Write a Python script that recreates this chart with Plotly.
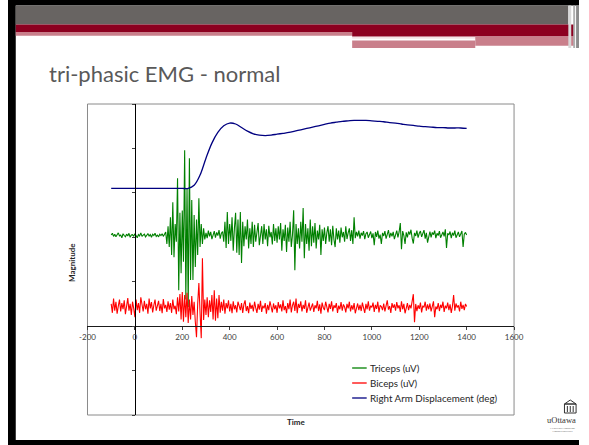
import numpy as np
import plotly.graph_objects as go

# ---------------- data ----------------
# EMG traces sampled every 5 ms from -100 ms to 1400 ms
time_ms = np.arange(-100, 1401, 5)

triceps_uv = [
    2.05, 2.09, 2.02, 2.07, 2.01, 2.06, 2.10, 2.03, 2.05, 1.99,
    2.08, 2.04, 2.01, 2.07, 2.03, 2.09, 2.00, 2.05, 2.06, 2.02,
    2.08, 2.04, 1.99, 2.06, 2.03, 2.10, 2.02, 2.05, 2.07, 2.01,
    2.04, 2.08, 2.03, 2.06, 2.00, 2.07, 2.04, 2.09, 2.02, 2.05,
    2.01, 2.07, 2.04, 2.08, 2.02, 2.06, 2.12, 1.85, 2.25, 1.78,
    2.45, 1.60, 2.79, 1.55, 2.30, 1.90, 3.33, 0.81, 2.55, 1.19,
    2.60, 1.45, 3.96, 0.60, 3.10, 0.43, 3.78, 1.04, 2.84, 1.04,
    2.50, 1.33, 2.40, 1.60, 2.88, 1.78, 2.30, 1.85, 2.20, 1.95,
    2.10, 1.98, 2.15, 2.02, 2.12, 1.96, 2.08, 2.14, 1.99, 2.11,
    2.04, 2.16, 1.97, 2.09, 2.13, 1.90, 2.35, 1.76, 2.57, 1.85,
    2.30, 1.92, 2.45, 1.70, 2.20, 2.55, 1.65, 2.40, 1.60, 2.57,
    1.42, 2.35, 1.80, 2.25, 1.95, 2.40, 1.75, 2.20, 1.85, 2.35,
    1.78, 2.28, 1.90, 2.15, 2.32, 1.82, 2.10, 2.25, 1.85, 2.30,
    1.95, 2.18, 1.80, 2.26, 2.00, 2.12, 1.84, 2.30, 1.92, 2.20,
    1.88, 2.25, 1.95, 2.32, 1.70, 2.18, 1.92, 2.28, 1.67, 2.22,
    1.90, 2.35, 1.78, 2.05, 2.61, 1.26, 2.30, 1.85, 2.20, 1.75,
    2.35, 1.90, 2.66, 1.53, 2.30, 1.85, 2.20, 1.70, 2.40, 1.80,
    2.25, 1.88, 2.32, 1.75, 2.15, 1.95, 2.28, 1.60, 2.18, 1.92,
    2.22, 1.85, 2.10, 2.25, 1.90, 2.18, 1.82, 2.26, 1.95, 1.78,
    2.20, 1.95, 2.15, 1.88, 2.22, 2.00, 2.12, 1.90, 2.25, 1.96,
    2.10, 2.20, 1.92, 2.16, 1.85, 2.45, 1.98, 2.12, 2.02, 2.15,
    1.97, 2.10, 2.04, 2.14, 1.96, 2.08, 2.12, 1.99, 2.06, 2.13,
    1.98, 2.09, 1.82, 2.12, 2.01, 2.15, 1.97, 2.06, 1.85, 2.10,
    2.03, 2.14, 1.97, 2.08, 2.16, 1.99, 2.10, 2.02, 2.12, 1.96,
    2.08, 2.15, 2.00, 2.12, 2.32, 1.73, 2.14, 2.04, 1.85, 2.11,
    2.00, 2.13, 2.06, 2.17, 1.98, 1.86, 2.10, 2.03, 2.15, 1.99,
    2.09, 2.14, 2.01, 2.07, 2.16, 1.97, 2.10, 1.88, 2.05, 2.13,
    2.00, 2.11, 2.06, 2.15, 1.98, 2.09, 2.04, 2.14, 1.99, 2.08,
    2.12, 2.02, 2.18, 1.76, 2.09, 2.05, 2.13, 1.98, 2.10, 2.04,
    2.15, 1.99, 2.08, 2.12, 2.01, 2.06, 2.14, 1.78, 2.07, 2.11,
    2.05,
]

biceps_uv = [
    0.50, 0.30, 0.62, 0.35, 0.55, 0.28, 0.45, 0.60, 0.33, 0.52,
    0.38, 0.58, 0.27, 0.48, 0.63, 0.35, 0.50, 0.25, 0.55, 0.40,
    0.20, 0.60, 0.36, 0.52, 0.30, 0.65, 0.42, 0.33, 0.57, 0.38,
    0.50, 0.28, 0.62, 0.40, 0.54, 0.31, 0.47, 0.60, 0.35, 0.45,
    0.57, 0.34, 0.50, 0.29, 0.61, 0.40, 0.48, 0.32, 0.56, 0.37,
    0.52, 0.30, 0.60, 0.38, 0.46, 0.27, 0.65, 0.33, 0.72, 0.15,
    0.77, 0.10, 0.70, 0.20, 0.75, 0.07, 0.60, 0.15, 0.68, 0.25,
    0.55, 0.10, -0.25, 0.50, 0.97, 0.30, -0.27, 1.53, 0.14, 0.60,
    0.25, 0.65, 0.20, 0.58, 0.32, 0.70, 0.15, 0.81, 0.12, 0.62,
    0.18, 0.70, 0.30, 0.55, 0.35, 0.60, 0.28, 0.52, 0.40, 0.58,
    0.33, 0.50, 0.29, 0.56, 0.38, 0.47, 0.31, 0.55, 0.42, 0.36,
    0.52, 0.30, 0.49, 0.58, 0.34, 0.45, 0.29, 0.53, 0.39, 0.48,
    0.33, 0.55, 0.41, 0.30, 0.50, 0.37, 0.57, 0.32, 0.46, 0.40,
    0.52, 0.28, 0.48, 0.36, 0.56, 0.42, 0.31, 0.51, 0.38, 0.47,
    0.30, 0.54, 0.40, 0.49, 0.33, 0.58, 0.36, 0.45, 0.29, 0.52,
    0.38, 0.60, 0.31, 0.47, 0.55, 0.34, 0.62, 0.29, 0.50, 0.41,
    0.56, 0.33, 0.48, 0.39, 0.58, 0.30, 0.46, 0.53, 0.35, 0.44,
    0.51, 0.32, 0.47, 0.40, 0.57, 0.34, 0.49, 0.28, 0.53, 0.42,
    0.36, 0.55, 0.44, 0.31, 0.50, 0.39, 0.56, 0.33, 0.47, 0.41,
    0.52, 0.30, 0.46, 0.38, 0.54, 0.35, 0.49, 0.43, 0.31, 0.50,
    0.40, 0.55, 0.33, 0.47, 0.37, 0.52, 0.29, 0.45, 0.51, 0.36,
    0.48, 0.34, 0.53, 0.41, 0.30, 0.50, 0.38, 0.56, 0.35, 0.46,
    0.42, 0.53, 0.32, 0.48, 0.39, 0.55, 0.31, 0.47, 0.44, 0.36,
    0.51, 0.33, 0.46, 0.58, 0.37, 0.45, 0.30, 0.52, 0.41, 0.49,
    0.35, 0.54, 0.40, 0.47, 0.32, 0.56, 0.38, 0.50, 0.29, 0.45,
    0.52, 0.36, 0.48, 0.40, 0.55, 0.72, 0.09, 0.50, 0.34, 0.47,
    0.39, 0.53, 0.31, 0.46, 0.42, 0.55, 0.35, 0.49, 0.38, 0.51,
    0.33, 0.47, 0.56, 0.20, 0.44, 0.38, 0.52, 0.34, 0.48, 0.41,
    0.55, 0.32, 0.46, 0.40, 0.53, 0.36, 0.49, 0.30, 0.45, 0.70,
    0.35, 0.51, 0.42, 0.47, 0.33, 0.55, 0.39, 0.48, 0.36, 0.50,
    0.44,
]

# arm displacement, every 25 ms
disp_time_ms = np.arange(-100, 1401, 25)
displacement_deg = [
    3.10, 3.10, 3.10, 3.10, 3.10, 3.10, 3.10, 3.10, 3.10, 3.10,
    3.10, 3.10, 3.10, 3.10, 3.17, 3.40, 3.78, 4.12, 4.36, 4.51,
    4.57, 4.55, 4.47, 4.39, 4.33, 4.30, 4.29, 4.30, 4.32, 4.34,
    4.36, 4.39, 4.42, 4.45, 4.48, 4.51, 4.54, 4.57, 4.59, 4.61,
    4.62, 4.63, 4.63, 4.63, 4.62, 4.61, 4.60, 4.58, 4.57, 4.55,
    4.53, 4.52, 4.50, 4.49, 4.48, 4.47, 4.47, 4.46, 4.46, 4.46,
    4.45,
]

series_names = ["Triceps (uV)", "Biceps (uV)", "Right Arm Displacement (deg)"]
series_colors = ["#008000", "#ff0000", "#000080"]

x_ticks = list(range(-200, 1601, 200))

# ---------------- layout helpers (pixel -> paper) ----------------
W, H = 589, 445
FONT = "Lato"


def px(x):
    return x / W


def py(y):
    return 1 - y / H


PLOT_L, PLOT_R, PLOT_T, PLOT_B = 82, 522, 104, 415
X_RANGE = [-200, 1600]
Y_RANGE = [-2, 5]

fig = go.Figure()

fig.add_trace(go.Scatter(x=time_ms, y=triceps_uv, mode="lines",
                         line=dict(color=series_colors[0], width=1.1),
                         name=series_names[0], showlegend=False))
fig.add_trace(go.Scatter(x=time_ms, y=biceps_uv, mode="lines",
                         line=dict(color=series_colors[1], width=1.1),
                         name=series_names[1], showlegend=False))
fig.add_trace(go.Scatter(x=disp_time_ms, y=displacement_deg, mode="lines",
                         line=dict(color=series_colors[2], width=1.3, shape="spline"),
                         name=series_names[2], showlegend=False))

dom_x = [px(PLOT_L), px(PLOT_R)]
dom_y = [py(PLOT_B), py(PLOT_T)]

# axes cross at the origin, like a spreadsheet chart
x_pos = dom_y[0] + (dom_y[1] - dom_y[0]) * (0 - Y_RANGE[0]) / (Y_RANGE[1] - Y_RANGE[0])
y_pos = dom_x[0] + (dom_x[1] - dom_x[0]) * (0 - X_RANGE[0]) / (X_RANGE[1] - X_RANGE[0])

fig.update_layout(
    width=W, height=H,
    margin=dict(l=0, r=0, t=0, b=0),
    paper_bgcolor="white", plot_bgcolor="white",
    hovermode=False,
    xaxis=dict(domain=dom_x, range=X_RANGE, anchor="free", position=x_pos,
               tickvals=x_ticks, ticktext=[str(v) for v in x_ticks],
               showgrid=False, zeroline=False,
               showline=True, linecolor="#1a1a1a", linewidth=1.2,
               ticks="outside", ticklen=3, tickcolor="#404040",
               tickfont=dict(family=FONT, size=8, color="#404040")),
    yaxis=dict(domain=dom_y, range=Y_RANGE, anchor="free", position=y_pos,
               dtick=1, showticklabels=False,
               showgrid=False, zeroline=False,
               showline=True, linecolor="#000000", linewidth=1.4,
               ticks="outside", ticklen=3, tickcolor="#404040"),
)

shapes = []
# plot-area frame
shapes.append(dict(type="rect", xref="paper", yref="paper",
                   x0=dom_x[0], x1=dom_x[1], y0=dom_y[0], y1=dom_y[1],
                   line=dict(color="#8a8a8a", width=1), layer="below"))


def band(x0, x1, y0, y1, color):
    shapes.append(dict(type="rect", xref="paper", yref="paper",
                       x0=px(x0), x1=px(x1), y0=py(y1), y1=py(y0),
                       fillcolor=color, line=dict(width=0), layer="above"))


# slide frame and header bands
band(0, W, 0, 5.5, "#000000")
band(0, 8, 0, H, "#000000")
band(0, W, 440, H, "#000000")
band(8, 578, 5.5, 24.5, "#686462")
band(8, 584, 24.5, 32, "#8c0020")
band(8, 355, 32, 35.7, "#c97f8b")
band(355, 584, 32, 36.4, "#8c0020")
band(355, 552, 37.2, 38.6, "#f0d8dc")
band(355, 482, 40.5, 48, "#c97f8b")
band(482, 584, 36.4, 45.8, "#c97f8b")
band(578, 581, 5.5, 48, "#d8d8d8")
band(583, 585, 5.5, 48, "#b0b0b0")
band(586, 589, 5.5, 48, "#8c8c8c")

# legend drawn inside the plot area
leg_x0, leg_x1, leg_text_x = 355, 370, 371
leg_rows = [368, 383, 398]
annotations = []
for name, color, yy in zip(series_names, series_colors, leg_rows):
    shapes.append(dict(type="line", xref="paper", yref="paper",
                       x0=px(leg_x0), x1=px(leg_x1), y0=py(yy), y1=py(yy),
                       line=dict(color=color, width=1.3)))
    annotations.append(dict(x=px(leg_text_x), y=py(yy), xref="paper", yref="paper",
                            text=name, showarrow=False, xanchor="left", yanchor="middle",
                            font=dict(family=FONT, size=9.8, color="#262626")))

# logo: simple building pictogram
bx0, bx1, by0, by1 = 574, 586, 401, 413
shapes.append(dict(type="path", xref="paper", yref="paper",
                   path=f"M {px(bx0)},{py(by0+3)} L {px((bx0+bx1)/2)},{py(by0-1)} L {px(bx1)},{py(by0+3)} Z",
                   line=dict(color="#333333", width=1), fillcolor="white"))
shapes.append(dict(type="rect", xref="paper", yref="paper",
                   x0=px(bx0), x1=px(bx1), y0=py(by1), y1=py(by0 + 3),
                   line=dict(color="#333333", width=1)))
for cx in [577, 580, 583]:
    shapes.append(dict(type="line", xref="paper", yref="paper",
                       x0=px(cx), x1=px(cx), y0=py(by1 - 1), y1=py(by0 + 5),
                       line=dict(color="#333333", width=1)))

annotations += [
    dict(x=px(40), y=py(73), xref="paper", yref="paper", text="tri-phasic EMG - normal",
         showarrow=False, xanchor="left", yanchor="middle",
         font=dict(family=FONT, size=22, color="#595959")),
    dict(x=px(297), y=py(422), xref="paper", yref="paper", text="<b>Time</b>",
         showarrow=False, xanchor="center", yanchor="middle",
         font=dict(family=FONT, size=8, color="#262626")),
    dict(x=px(66), y=py(262), xref="paper", yref="paper", text="<b>Magnitude</b>",
         showarrow=False, textangle=-90, xanchor="center", yanchor="middle",
         font=dict(family=FONT, size=8, color="#262626")),
    dict(x=px(588), y=py(420), xref="paper", yref="paper", text="uOttawa",
         showarrow=False, xanchor="right", yanchor="middle",
         font=dict(family="Liberation Serif", size=8.5, color="#333333")),
    dict(x=px(588), y=py(430), xref="paper", yref="paper",
         text="L'Université canadienne<br>Canada's university",
         showarrow=False, xanchor="right", yanchor="middle", align="center",
         font=dict(family="Liberation Serif", size=2.6, color="#555555")),
]

fig.update_layout(shapes=shapes, annotations=annotations)

fig.write_html("out.html", config={"displayModeBar": False})
